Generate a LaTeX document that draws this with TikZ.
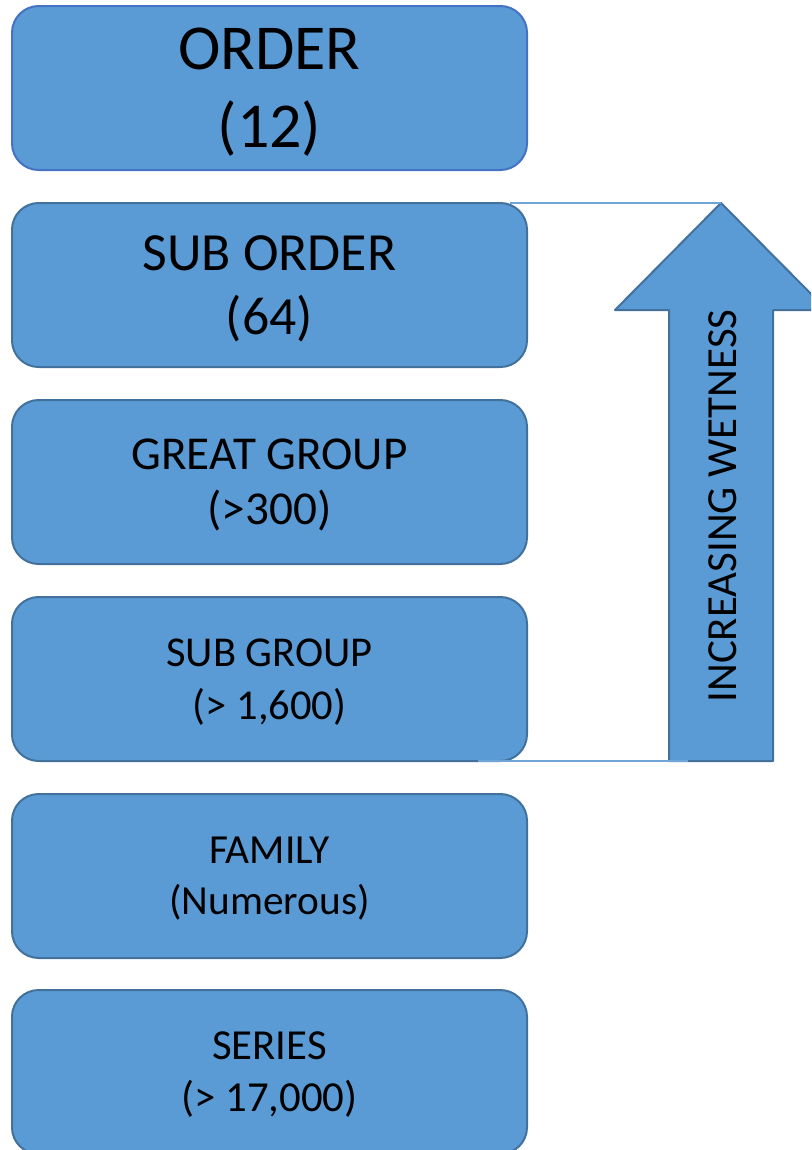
\documentclass[tikz,border=0pt]{standalone}
\usepackage{fontspec}
\setmainfont{Carlito}
\usetikzlibrary{positioning}
\definecolor{boxblue}{RGB}{91,155,213}
\definecolor{boxedge}{RGB}{65,113,156}
\definecolor{topedge}{RGB}{68,114,196}
\definecolor{linkblue}{RGB}{112,165,218}

\begin{document}
\begin{tikzpicture}[x=0.75pt, y=-0.75pt, line join=round,
	level/.style={draw=boxedge, fill=boxblue, line width=1.5pt, rounded corners=20pt, outer sep=0pt,
		minimum width=386.25pt, minimum height=123pt, inner sep=0pt, text depth=0pt, align=center, text=black},
	arrowshape/.style={draw=boxedge, fill=boxblue, line width=1.5pt},
	link/.style={linkblue, line width=0.9pt}]
	% page frame
	\clip (0,0) rectangle (811,1150);

	% the six levels
	\node[level, draw=topedge, font=\fontsize{48}{58.5}\selectfont] (order) at (269.5,88) {ORDER\\(12)};
	\node[level, font=\fontsize{40.3}{48}\selectfont] (suborder) at (269.5,285) {SUB ORDER\\(64)};
	\node[level, font=\fontsize{35.4}{41.25}\selectfont] (greatgroup) at (269.5,482) {GREAT GROUP\\(>300)};
	\node[level, font=\fontsize{31.9}{39.75}\selectfont] (subgroup) at (269.5,679) {SUB GROUP\\(> 1,600)};
	\node[level, font=\fontsize{31}{38.25}\selectfont] (family) at (269.5,876) {FAMILY\\(Numerous)};
	\node[level, font=\fontsize{32.1}{39}\selectfont] (series) at (269.5,1072) {SERIES\\(> 17,000)};

	% arrow up
	\coordinate (tip) at (721,203);
	\coordinate (foot) at (688,761);
	\draw[arrowshape] (tip) -- (827,310) -- (773,310) -- (773,761) -- (669,761)
		-- (669,310) -- (615,310) -- cycle;
	\node[rotate=90, font=\fontsize{32.2}{38}\selectfont] (wetness) at (723,506) {INCREASING WETNESS};

	% thin links
	\draw[link] ([xshift=-12.75pt]suborder.north east) -- (tip);
	\draw[link] ([xshift=-36.75pt]subgroup.south east) -- (foot);
\end{tikzpicture}
\end{document}
